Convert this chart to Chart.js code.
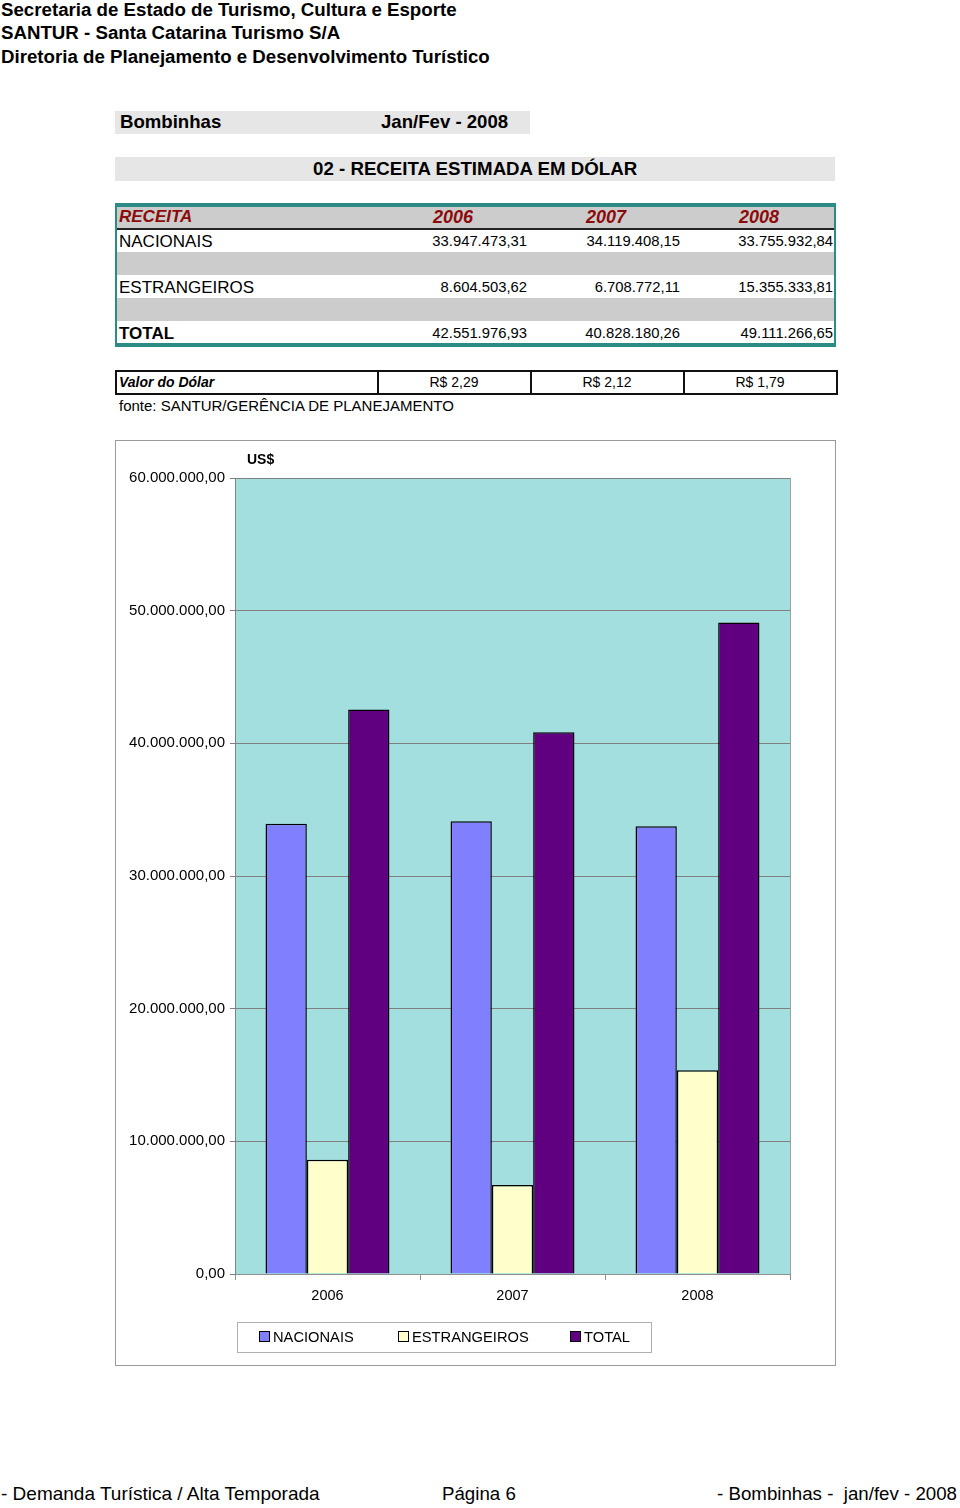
<!DOCTYPE html>
<html>
<head>
<meta charset="utf-8">
<script src="https://cdn.jsdelivr.net/npm/chart.js@4"></script>
<style>
  body { margin: 0; width: 960px; height: 1508px; position: relative; background: #fff;
         font-family: "Liberation Sans", Arial, sans-serif; color: #000; overflow: hidden; }
  .abs { position: absolute; white-space: nowrap; }
  .hdr { font-weight: bold; font-size: 18.7px; left: 1px; }
  #chartBox { position: absolute; left: 115px; top: 440px; width: 719px; height: 924px;
              border: 1px solid #9a9a9a; }
  #chartBox canvas { position: absolute; left: 0; top: 0; }
  #legend { position: absolute; left: 237px; top: 1322px; width: 413px; height: 29px;
            border: 1px solid #b0b0b0; font-size: 14.7px; }
  .lg { position: absolute; top: 6px; }
  .sw { display: inline-block; width: 9px; height: 9px; border: 1px solid #000; margin-right: 3px; vertical-align: 0px; }
</style>
</head>
<body>
<div class="abs hdr" style="top:-1px">Secretaria de Estado de Turismo, Cultura e Esporte</div>
<div class="abs hdr" style="top:22px">SANTUR - Santa Catarina Turismo S/A</div>
<div class="abs hdr" style="top:46px">Diretoria de Planejamento e Desenvolvimento Turístico</div>

<div class="abs" style="left:115px;top:111px;width:415px;height:23px;background:#e6e6e6"></div>
<div class="abs" style="left:120px;top:111px;font-weight:bold;font-size:18.6px">Bombinhas</div>
<div class="abs" style="left:381px;top:111px;font-weight:bold;font-size:18.6px">Jan/Fev - 2008</div>

<div class="abs" style="left:115px;top:157px;width:720px;height:24px;background:#e6e6e6"></div>
<div class="abs" style="left:313px;top:158px;font-weight:bold;font-size:18.7px">02 - RECEITA ESTIMADA EM DÓLAR</div>

<div id="table"></div>

<div id="chartBox"><canvas id="myChart" width="719" height="924"></canvas></div>
<div class="abs" style="left:247px;top:451px;font-weight:bold;font-size:14px">US$</div>
<div id="legend"></div>

<div class="abs" style="left:1px;top:1483px;font-size:19px">- Demanda Turística / Alta Temporada</div>
<div class="abs" style="left:442px;top:1483px;font-size:18.7px">Página 6</div>
<div class="abs" style="right:3px;top:1483px;font-size:18.7px">- Bombinhas -&nbsp; jan/fev - 2008</div>

<script>
const years = ['2006', '2007', '2008'];
const seriesNames = ['NACIONAIS', 'ESTRANGEIROS', 'TOTAL'];
const nacionais = [33947473.31, 34119408.15, 33755932.84];
const estrangeiros = [8604503.62, 6708772.11, 15355333.81];
const total = [42551976.93, 40828180.26, 49111266.65];
const dolar = ['R$ 2,29', 'R$ 2,12', 'R$ 1,79'];
const yTicks = [0, 10000000, 20000000, 30000000, 40000000, 50000000, 60000000];
const colors = ['#8080ff', '#ffffcc', '#600080'];

// pt-BR number, 2 decimals
function fmt(v) {
    const parts = v.toFixed(2).split('.');
    const intPart = parts[0].replace(/\B(?=(\d{3})+(?!\d))/g, '.');
    return intPart + ',' + parts[1];
}

function buildTable() {
    const t = document.querySelector('#table');
    let html = '';
    // teal frame
    html += '<div class="abs" style="left:115px;top:203px;width:721px;height:4px;background:#2a8c84"></div>';
    html += '<div class="abs" style="left:115px;top:343px;width:721px;height:4px;background:#2a8c84"></div>';
    html += '<div class="abs" style="left:115px;top:203px;width:2px;height:144px;background:#2a8c84"></div>';
    html += '<div class="abs" style="left:834px;top:203px;width:2px;height:144px;background:#2a8c84"></div>';
    // header row
    html += '<div class="abs" style="left:117px;top:207px;width:717px;height:21px;background:#cccccc;border-bottom:2px solid #222"></div>';
    html += '<div class="abs" style="left:119px;top:207px;font-size:17px;font-weight:bold;font-style:italic;color:#8b0a0a">RECEITA</div>';
    const colX = [433, 586, 739];
    years.forEach((y, i) => {
        html += `<div class="abs" style="left:${colX[i]}px;top:207px;font-size:18px;font-weight:bold;font-style:italic;color:#8b0a0a">${y}</div>`;
    });
    // grey spacer rows
    html += '<div class="abs" style="left:117px;top:252px;width:717px;height:23px;background:#cccccc"></div>';
    html += '<div class="abs" style="left:117px;top:298px;width:717px;height:23px;background:#cccccc"></div>';
    const rows = [[seriesNames[0], nacionais, 232, false], [seriesNames[1], estrangeiros, 278, false], [seriesNames[2], total, 324, true]];
    const numRight = [527, 680, 833];
    rows.forEach(r => {
        html += `<div class="abs" style="left:119px;top:${r[2]}px;font-size:17px;${r[3] ? 'font-weight:bold;' : ''}">${r[0]}</div>`;
        r[1].forEach((v, i) => {
            html += `<div class="abs" style="right:${960 - numRight[i]}px;top:${r[2] + 1}px;font-size:14.8px">${fmt(v)}</div>`;
        });
    });
    // dollar row
    html += '<div class="abs" style="left:115px;top:370px;width:719px;height:21px;border:2px solid #111"></div>';
    [377, 530, 683].forEach(x => {
        html += `<div class="abs" style="left:${x}px;top:370px;width:2px;height:24px;background:#111"></div>`;
    });
    html += '<div class="abs" style="left:119px;top:374px;font-size:14px;font-weight:bold;font-style:italic">Valor do Dólar</div>';
    const dc = [454, 607, 760];
    dolar.forEach((d, i) => {
        html += `<div class="abs" style="left:${dc[i] - 25}px;width:50px;text-align:center;top:374px;font-size:14px">${d}</div>`;
    });
    html += '<div class="abs" style="left:119px;top:397px;font-size:15px">fonte: SANTUR/GERÊNCIA DE PLANEJAMENTO</div>';
    t.innerHTML = html;
}

function buildLegend() {
    const lg = document.querySelector('#legend');
    const lx = [21, 160, 332];
    lg.innerHTML = seriesNames.map((n, i) =>
        `<span class="lg" style="left:${lx[i]}px"><span class="sw" style="background:${colors[i]}"></span>${n}</span>`).join('');
}

const plotBg = {
    id: 'plotBg',
    beforeDraw(chart) {
        const a = chart.chartArea;
        const ctx = chart.ctx;
        ctx.save();
        ctx.fillStyle = '#a4dfe0';
        ctx.fillRect(a.left, a.top, a.right - a.left, a.bottom - a.top);
        ctx.strokeStyle = '#a0a0a0';
        ctx.lineWidth = 1;
        ctx.strokeRect(a.left + 0.5, a.top + 0.5, a.right - a.left, a.bottom - a.top);
        ctx.restore();
    }
};

function initChart(chart) {
    const data = {
        labels: years,
        datasets: [nacionais, estrangeiros, total].map((vals, i) => ({
            label: seriesNames[i],
            data: vals,
            backgroundColor: colors[i],
            borderColor: '#000',
            borderWidth: 1.5,
            borderSkipped: 'bottom',
            categoryPercentage: 0.67,
            barPercentage: 1.0
        }))
    };
    const config = {
        type: 'bar',
        data: data,
        plugins: [plotBg],
        options: {
            responsive: false,
            animation: false,
            layout: { padding: { top: 37, right: 45, bottom: 0, left: 0 } },
            plugins: { legend: { display: false }, tooltip: { enabled: false } },
            scales: {
                x: {
                    grid: { drawOnChartArea: false, drawTicks: true, tickLength: 6, color: '#909090', offset: true },
                    border: { color: '#909090' },
                    ticks: { color: '#000', font: { family: 'Liberation Sans', size: 14.5 }, padding: 7 },
                    afterFit(scale) { scale.height = 91; }
                },
                y: {
                    min: 0,
                    max: 60000000,
                    afterBuildTicks(scale) { scale.ticks = yTicks.map(v => ({ value: v })); },
                    grid: { color: '#808080', tickLength: 5, drawTicks: true },
                    border: { color: '#808080' },
                    ticks: {
                        color: '#000',
                        font: { family: 'Liberation Sans', size: 15 },
                        padding: 5,
                        callback: v => fmt(v)
                    },
                    afterFit(scale) { scale.width = 119; }
                }
            }
        }
    };
    return new Chart(chart, config);
}

buildTable();
buildLegend();
initChart(document.querySelector('#myChart'));
</script>
</body>
</html>
